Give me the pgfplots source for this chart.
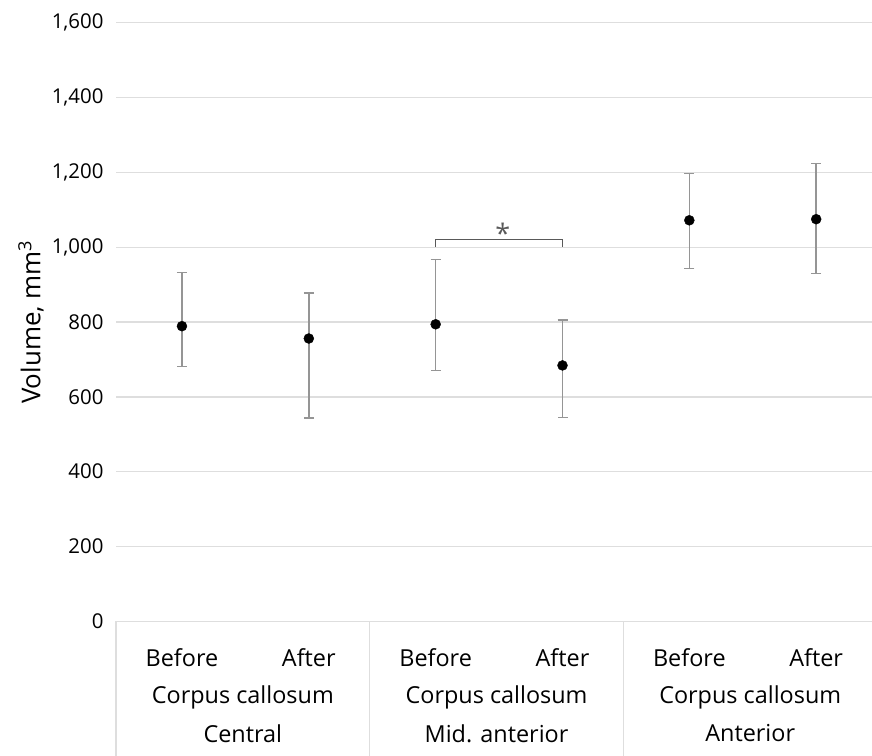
\documentclass[border=0pt]{standalone}
\usepackage{pgfplots}
\pgfplotsset{compat=1.18}
\usepackage{fontspec}
\setmainfont{Open Sans}
\definecolor{gridc}{HTML}{DEDEDE}
\definecolor{errc}{HTML}{959595}
\definecolor{brc}{HTML}{595959}
\tikzset{catlab/.style={font=\fontsize{23.5}{27}\selectfont, anchor=center}}
\begin{document}
\begin{tikzpicture}
\path[use as bounding box] (0,0) rectangle (872bp,756bp);
\begin{axis}[
  at={(116bp,134.7bp)}, anchor=south west,
  scale only axis, width=756bp, height=598.5bp,
  xmin=0, xmax=5.96, ymin=0, ymax=1600,
  ytick={0,200,...,1600},
  xtick=\empty,
  ymajorgrids, grid style={gridc, line width=1.3bp},
  axis line style={draw=none},
  ytick style={draw=none},
  yticklabel style={font=\fontsize{20.5}{24}\selectfont, xshift=-9bp},
  /pgf/number format/.cd, assume math mode=true, 1000 sep={,},
  /pgfplots/.cd,
  ylabel={Volume, mm\textsuperscript{3}},
  every axis y label/.style={at={([xshift=-85bp]rel axis cs:0,0.5)}, rotate=90, anchor=center, font=\fontsize{26}{30}\selectfont},
  clip=false,
]
\addplot[only marks, mark=*, mark size=5bp, black,
  error bars/.cd, y dir=both, y explicit,
  error bar style={errc, line width=1.6bp},
  error mark options={errc, line width=1.4bp, mark size=5bp, rotate=90}]
  table[x=x, y=y, y error plus=ep, y error minus=em] {
x    y     ep   em
0.52 789   144  108
1.52 756   122  213
2.52 794   174  124
3.52 684   122  139
4.52 1072  125  129
5.52 1075  149  146
};
% significance bracket
\draw[brc, line width=1.4bp] (axis cs:2.52,1000) -- (axis cs:2.52,1021) -- (axis cs:3.52,1021) -- (axis cs:3.52,1000);
\node[font=\fontsize{27}{30}\selectfont, text=brc, anchor=north, inner sep=0pt] at (axis cs:3.05,1064) {*};
% category separators
\draw[gridc, line width=1.3bp] (axis cs:0,0) -- ([yshift=-140bp]axis cs:0,0);
\draw[gridc, line width=1.3bp] (axis cs:2,0) -- ([yshift=-140bp]axis cs:2,0);
\draw[gridc, line width=1.3bp] (axis cs:4,0) -- ([yshift=-140bp]axis cs:4,0);
% category labels
\node[catlab] at ([yshift=-36bp]axis cs:0.52,0) {Before};
\node[catlab] at ([yshift=-36bp]axis cs:1.52,0) {After};
\node[catlab] at ([yshift=-36bp]axis cs:2.52,0) {Before};
\node[catlab] at ([yshift=-36bp]axis cs:3.52,0) {After};
\node[catlab] at ([yshift=-36bp]axis cs:4.52,0) {Before};
\node[catlab] at ([yshift=-36bp]axis cs:5.52,0) {After};
\node[catlab] at ([yshift=-76bp]axis cs:1,0) {Corpus callosum};
\node[catlab] at ([yshift=-112bp]axis cs:1,0) {Central};
\node[catlab] at ([yshift=-76bp]axis cs:3,0) {Corpus callosum};
\node[catlab] at ([yshift=-112bp]axis cs:3,0) {Mid. anterior};
\node[catlab] at ([yshift=-76bp]axis cs:5,0) {Corpus callosum};
\node[catlab] at ([yshift=-112bp]axis cs:5,0) {Anterior};
\end{axis}
\end{tikzpicture}
\end{document}
